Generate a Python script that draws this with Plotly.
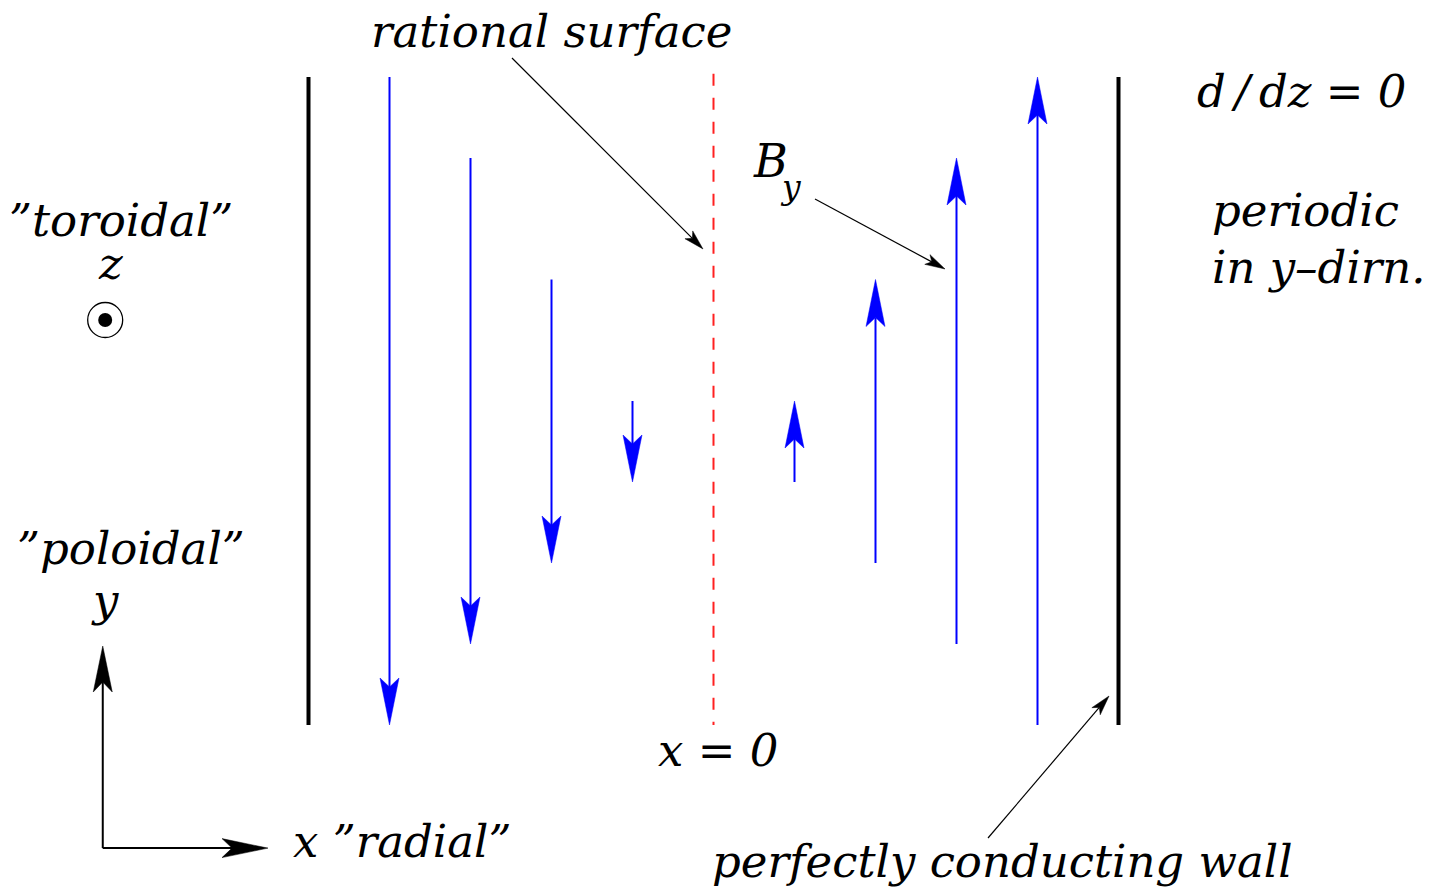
import numpy as np
import plotly.graph_objects as go

# ---- data (grid units: 1 unit = spacing between field lines; rational surface at x = 0)
field_x = [-4, -3, -2, -1, 1, 2, 3, 4]
field_y_start = [8.0, 7.0, 5.5, 4.0, 3.0, 2.0, 1.0, 0.0]
field_y_end = [0.0, 1.0, 2.0, 3.0, 4.0, 5.5, 7.0, 8.0]
wall_x = [-5, 5]
wall_y = [0.0, 8.0]
rational_x = 0
rational_y = [8.04, 0.0]

# coordinate-system arrows (origin, y-tip, x-tip)
axes_origin = (-7.54, -1.52)
axes_y_tip = 0.975
axes_x_tip = -5.5

# pointer arrows: (x0, y0, x1, y1)
pointer_rational = (-2.488, 8.235, -0.130, 5.877)
pointer_By = (1.253, 6.494, 2.858, 5.630)
pointer_wall = (3.389, -1.395, 4.883, 0.358)

# z out-of-page symbol
zsym_center = (-7.51, 5.0)

PX = 81.0  # pixels per unit
W_PX, H_PX = 1450, 891
X0_PX, Y0_PX = 713.5, 725.0
xr = [-X0_PX / PX, (W_PX - X0_PX) / PX]
yr = [-(H_PX - Y0_PX) / PX, Y0_PX / PX]

FONT = "DejaVu Serif"

fig = go.Figure()


def head(tx, ty, dx, dy, L, W, N):
    n = np.hypot(dx, dy)
    dx, dy = dx / n, dy / n
    nx, ny = -dy, dx
    L, W, N = L / PX, W / PX, N / PX
    xs = [tx, tx - L * dx + W * nx, tx - (L - N) * dx, tx - L * dx - W * nx, tx]
    ys = [ty, ty - L * dy + W * ny, ty - (L - N) * dy, ty - L * dy - W * ny, ty]
    return xs, ys, (tx - (L - N) * dx, ty - (L - N) * dy)


def arrow(x0, y0, x1, y1, color, lw, L, W, N):
    hx, hy, notch = head(x1, y1, x1 - x0, y1 - y0, L, W, N)
    fig.add_trace(go.Scatter(x=[x0, notch[0]], y=[y0, notch[1]], mode="lines",
                             line=dict(color=color, width=lw), hoverinfo="skip",
                             showlegend=False))
    fig.add_trace(go.Scatter(x=hx, y=hy, mode="lines", fill="toself",
                             fillcolor=color, line=dict(color=color, width=0.5),
                             hoverinfo="skip", showlegend=False))


# walls
for wx in wall_x:
    fig.add_trace(go.Scatter(x=[wx, wx], y=wall_y, mode="lines",
                             line=dict(color="black", width=4), hoverinfo="skip",
                             showlegend=False))

# rational surface
fig.add_trace(go.Scatter(x=[rational_x, rational_x], y=rational_y, mode="lines",
                         line=dict(color="#ff2020", width=2, dash="12px,12px"),
                         hoverinfo="skip", showlegend=False))

# field lines B_y
for fx, ys, ye in zip(field_x, field_y_start, field_y_end):
    arrow(fx, ys, fx, ye, "#0000ff", 2, 47, 9.5, 9)

# coordinate axes
ox, oy = axes_origin
arrow(ox, oy, ox, axes_y_tip, "black", 2, 46, 9.5, 10)
arrow(ox, oy, axes_x_tip, oy, "black", 2, 46, 9.5, 10)

# pointers
for p in (pointer_rational, pointer_By, pointer_wall):
    arrow(*p, "black", 1.2, 20, 5.5, 5)

# z symbol
cx, cy = zsym_center
r1, r2 = 17.5 / PX, 7 / PX
fig.add_shape(type="circle", xref="x", yref="y", x0=cx - r1, x1=cx + r1,
              y0=cy - r1, y1=cy + r1, line=dict(color="black", width=1.3))
fig.add_shape(type="circle", xref="x", yref="y", x0=cx - r2, x1=cx + r2,
              y0=cy - r2, y1=cy + r2, line=dict(color="black", width=0),
              fillcolor="black")


def label(x, y, text, size=45, xanchor="center"):
    fig.add_annotation(x=x, y=y, xref="x", yref="y", text=text, showarrow=False,
                       xanchor=xanchor, yanchor="middle",
                       font=dict(family=FONT, size=size, color="black"))


label(-1.994, 8.56, "<i>rational surface</i>")
label(-7.315, 6.23, "<i>\u201dtoroidal\u201d</i>")
label(-7.45, 5.70, "<i>z</i>")
label(-7.19, 2.185, "<i>\u201dpoloidal\u201d</i>")
label(-7.51, 1.543, "<i>y</i>")
label(-3.84, -1.444, "<i>x \u201dradial\u201d</i>")
label(0.056, -0.309, "<i>x</i> = <i>0</i>")
label(3.574, -1.691, "<i>perfectly conducting wall</i>")
label(0.94, 6.96, "<i>B</i>", size=46, xanchor="right")
label(0.80, 6.63, "<i>y</i>", size=33, xanchor="left")
label(7.265, 7.815, "<i>d\u2009/\u2009dz</i> = <i>0</i>")
label(6.13, 6.358, "<i>periodic</i>", xanchor="left")
label(6.13, 5.654, "<i>in y\u2013dirn.</i>", xanchor="left")

fig.update_xaxes(range=xr, visible=False, showgrid=False, zeroline=False, fixedrange=True)
fig.update_yaxes(range=yr, visible=False, showgrid=False, zeroline=False, fixedrange=True)
fig.update_layout(width=W_PX, height=H_PX, margin=dict(l=0, r=0, t=0, b=0),
                  paper_bgcolor="white", plot_bgcolor="white", showlegend=False)

fig.write_html("out.html", config={"displayModeBar": False},
               post_script="document.body.style.margin='0';document.body.style.overflow='hidden';")
